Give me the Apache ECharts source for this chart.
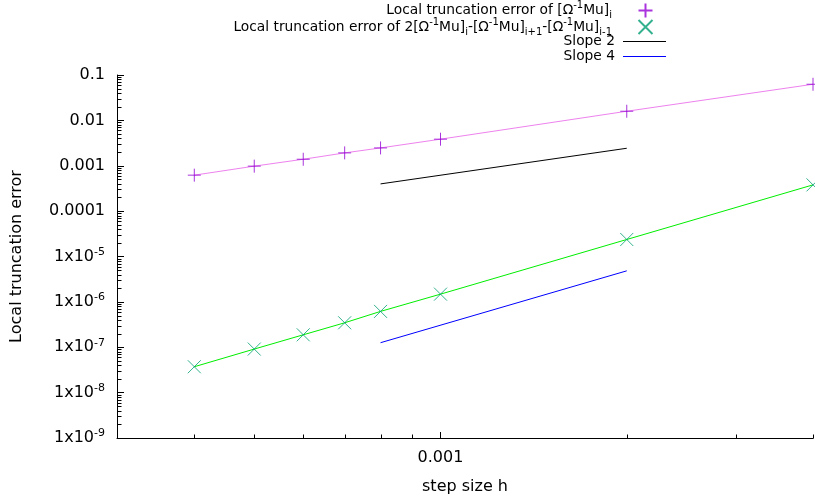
<!DOCTYPE html>
<html><head><meta charset="utf-8">
<script src="https://cdn.jsdelivr.net/npm/echarts@6/dist/echarts.min.js"></script>
<style>html,body{margin:0;padding:0;background:#fff}#c{width:815px;height:503px}</style>
</head><body><div id="c"></div>
<script>
// ---- data ----
const stepSizes   = [0.0004, 0.0005, 0.0006, 0.0007, 0.0008, 0.001, 0.002, 0.004];
const lteSingle   = [6.2e-4, 9.8e-4, 1.39e-3, 1.92e-3, 2.47e-3, 3.85e-3, 0.0159, 0.0625];
const lteCombined = [3.72e-8, 9.12e-8, 1.88e-7, 3.46e-7, 6.17e-7, 1.48e-6, 2.37e-5, 3.79e-4];
const slopeH      = [0.0008, 0.002];
const slope2      = [3.98e-4, 2.43e-3];
const slope4      = [1.26e-7, 4.83e-6];
const xMajorTicks = [0.001];
const xTickLabels = ['0.001'];
const xMinorTicks = [0.0004, 0.0005, 0.0006, 0.0007, 0.0008, 0.0009, 0.002, 0.003, 0.004];
const yMajorTicks = [1e-9, 1e-8, 1e-7, 1e-6, 1e-5, 1e-4, 1e-3, 1e-2, 1e-1];
const yTickLabels = ['1x10{sup|-9}', '1x10{sup|-8}', '1x10{sup|-7}', '1x10{sup|-6}', '1x10{sup|-5}', '0.0001', '0.001', '0.01', '0.1'];
const legendNames = {
  single: 'Local truncation error of [Ω{sup|-1}Mu]{sub|i}',
  combined: 'Local truncation error of 2[Ω{sup|-1}Mu]{sub|i}-[Ω{sup|-1}Mu]{sub|i+1}-[Ω{sup|-1}Mu]{sub|i-1}',
  s2: 'Slope 2',
  s4: 'Slope 4'
};
const xMin = 0.0003, xMax = 0.004, yMin = 1e-9, yMax = 0.1;

// minor ticks on the y axis (2..9 within each decade)
const yMinorTicks = [];
for (let i = 0; i < yMajorTicks.length - 1; i++) {
  for (let k = 2; k <= 9; k++) yMinorTicks.push(k * yMajorTicks[i]);
}

const FONT = 'DejaVu Sans';
const PURPLE = '#9400d3', VIOLET = '#ee82ee', TEAL = '#009e73', GREEN = '#00ee00';
const plusPath = 'path://M0,5L10,5M5,0L5,10';
const crossPath = 'path://M0,0L10,10M10,0L0,10';
const barIcon = 'path://M0,0H43V1H0Z';

const legendRich = {
  sup: { fontSize: 10, lineHeight: 13, verticalAlign: 'top', fontFamily: FONT, color: '#000' },
  sub: { fontSize: 10, lineHeight: 10, verticalAlign: 'bottom', fontFamily: FONT, color: '#000' }
};
function mkLegend(name, top, right, pad, icon) {
  const item = icon ? { name: name, icon: icon } : name;
  return {
    data: [item], right: right, top: top, padding: 0, orient: 'vertical',
    align: 'right', itemWidth: 43, itemHeight: 14, selectedMode: false,
    formatter: n => legendNames[n],
    textStyle: { fontFamily: FONT, fontSize: 13.8, color: '#000', lineHeight: 20, padding: [0, pad, 0, 0], rich: legendRich }
  };
}

const chart = echarts.init(document.getElementById('c'), null, { renderer: 'canvas' });
chart.setOption({
  animation: false,
  backgroundColor: '#fff',
  grid: { left: 117, right: 2, top: 75, bottom: 65 },
  legend: [
    mkLegend('single', 0.5, 160, 7),
    mkLegend('combined', 17, 160, 7),
    mkLegend('s2', 31.5, 149, 3, barIcon),
    mkLegend('s4', 46.5, 149, 3, barIcon)
  ],
  xAxis: {
    type: 'log', logBase: 10, min: xMin, max: xMax,
    name: 'step size h', nameLocation: 'middle', nameGap: 41,
    nameTextStyle: { fontFamily: FONT, fontSize: 16, color: '#000' },
    axisLine: { lineStyle: { color: '#000', width: 1 } },
    axisTick: { inside: true, length: 6, customValues: xMajorTicks, lineStyle: { color: '#000' } },
    axisLabel: {
      customValues: xMajorTicks, margin: 12,
      formatter: v => { const i = xMajorTicks.findIndex(t => Math.abs(t - v) / t < 1e-6); return i >= 0 ? xTickLabels[i] : ''; },
      fontFamily: FONT, fontSize: 16, color: '#000'
    },
    splitLine: { show: false }, minorTick: { show: false }
  },
  yAxis: {
    type: 'log', logBase: 10, min: yMin, max: yMax,
    name: 'Local truncation error', nameLocation: 'middle', nameGap: 92, nameRotate: 90,
    nameTextStyle: { fontFamily: FONT, fontSize: 16, color: '#000' },
    axisLine: { lineStyle: { color: '#000', width: 1 } },
    axisTick: { inside: true, length: 7, customValues: yMajorTicks, lineStyle: { color: '#000' } },
    axisLabel: {
      customValues: yMajorTicks, margin: 12,
      formatter: v => { const i = yMajorTicks.findIndex(t => Math.abs(t - v) / t < 1e-6); return i >= 0 ? yTickLabels[i] : ''; },
      fontFamily: FONT, fontSize: 16, color: '#000', lineHeight: 20,
      rich: { sup: { fontSize: 11, lineHeight: 9, verticalAlign: 'top', fontFamily: FONT, color: '#000' } }
    },
    splitLine: { show: false }, minorTick: { show: false }
  },
  series: [
    {
      name: 'fit1', type: 'line', data: stepSizes.map((h, i) => [h, lteSingle[i]]),
      symbol: 'none', lineStyle: { color: VIOLET, width: 1 }, z: 2, silent: true
    },
    {
      name: 'fit2', type: 'line', data: stepSizes.map((h, i) => [h, lteCombined[i]]),
      symbol: 'none', lineStyle: { color: GREEN, width: 1 }, z: 2, silent: true
    },
    {
      name: 's2', type: 'line', data: slopeH.map((h, i) => [h, slope2[i]]),
      symbol: 'none', lineStyle: { color: '#000', width: 1 }, itemStyle: { color: '#000' }, z: 2, silent: true
    },
    {
      name: 's4', type: 'line', data: slopeH.map((h, i) => [h, slope4[i]]),
      symbol: 'none', lineStyle: { color: '#0000ff', width: 1 }, itemStyle: { color: '#0000ff' }, z: 2, silent: true
    },
    {
      name: 'single', type: 'scatter', data: stepSizes.map((h, i) => [h, lteSingle[i]]),
      symbol: plusPath, symbolSize: 13,
      itemStyle: { color: 'none', borderColor: PURPLE, borderWidth: 1 }, z: 5, silent: true
    },
    {
      name: 'combined', type: 'scatter', data: stepSizes.map((h, i) => [h, lteCombined[i]]),
      symbol: crossPath, symbolSize: 13,
      itemStyle: { color: 'none', borderColor: TEAL, borderWidth: 1 }, z: 5, silent: true
    },
    {
      name: 'xminor', type: 'custom', silent: true, z: 3,
      data: xMinorTicks.map(v => [v, yMin]),
      renderItem: (params, api) => {
        const p = api.coord([api.value(0), api.value(1)]);
        const x = Math.round(p[0]) + 0.5, y = Math.round(p[1]) + 0.5;
        return { type: 'line', shape: { x1: x, y1: y, x2: x, y2: y - 4 }, style: { stroke: '#000', lineWidth: 1 } };
      }
    },
    {
      name: 'yminor', type: 'custom', silent: true, z: 3,
      data: yMinorTicks.map(v => [xMin, v]),
      renderItem: (params, api) => {
        const p = api.coord([api.value(0), api.value(1)]);
        const x = Math.round(p[0]) + 0.5, y = Math.round(p[1]) + 0.5;
        return { type: 'line', shape: { x1: x, y1: y, x2: x + 4, y2: y }, style: { stroke: '#000', lineWidth: 1 } };
      }
    }
  ]
});
</script></body></html>
